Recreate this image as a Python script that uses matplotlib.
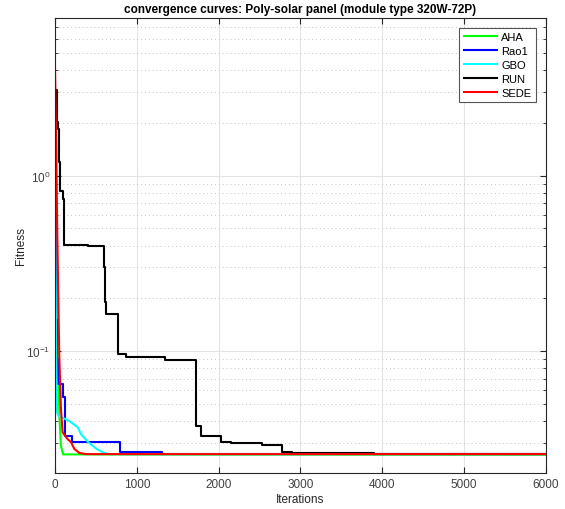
import matplotlib
matplotlib.use("Agg")
import matplotlib.pyplot as plt
from matplotlib.ticker import LogLocator, NullFormatter, MultipleLocator

plt.rcParams['font.family'] = ['Liberation Sans', 'DejaVu Sans']

# convergence data (iteration, best fitness)
aha_iter = [0, 10, 20, 40, 53, 73, 100, 6000]
aha_fit = [1.2, 0.6, 0.3, 0.09, 0.043, 0.029, 0.0259, 0.0258]

rao1_iter = [0, 8, 15, 25, 40, 95, 118, 208, 800, 1306, 6000]
rao1_fit = [1.5, 0.4, 0.15, 0.09, 0.0649, 0.055, 0.0331, 0.0306, 0.0266, 0.02615, 0.02615]

gbo_iter = [0, 5, 12, 20, 25, 40, 93, 175, 277, 318, 400, 502, 583, 665, 6000]
gbo_fit = [2.0, 0.5, 0.15, 0.06, 0.045, 0.043, 0.0419, 0.0401, 0.0370, 0.0338,
           0.0306, 0.0280, 0.0266, 0.0260, 0.0260]

run_iter = [0, 25, 40, 55, 62, 102, 114, 400, 600, 608, 615, 625, 768, 870, 1340,
            1720, 1780, 2034, 2157, 2524, 2770, 2892, 3900, 6000]
run_fit = [3.05, 2.02, 1.85, 1.2, 0.82, 0.737, 0.403, 0.398, 0.30, 0.23, 0.19, 0.163,
           0.0966, 0.0927, 0.0893, 0.0377, 0.0328, 0.0306, 0.0300, 0.0293, 0.0266,
           0.0263, 0.0260, 0.0260]

sede_iter = [0, 5, 15, 25, 35, 45, 53, 73, 93, 155, 196, 237, 298, 380, 6000]
sede_fit = [4.2, 3.0, 1.5, 0.6, 0.3, 0.15, 0.094, 0.047, 0.0346, 0.0316, 0.0304,
            0.0278, 0.0264, 0.0260, 0.0260]


def main():
    fig = plt.figure(figsize=(5.65, 5.10), dpi=100)
    ax = fig.add_axes([0.0973, 0.0706, 0.869, 0.8924])

    lw = 1.5
    ax.plot(aha_iter, aha_fit, color='#00ff00', lw=lw, label='AHA')
    ax.plot(rao1_iter, rao1_fit, color='#0000ff', lw=lw, drawstyle='steps-post', label='Rao1')
    ax.plot(gbo_iter, gbo_fit, color='#00ffff', lw=lw, label='GBO')
    ax.plot(run_iter, run_fit, color='black', lw=lw, drawstyle='steps-post', label='RUN')
    ax.plot(sede_iter, sede_fit, color='#ff0000', lw=lw, label='SEDE')

    ax.set_yscale('log')
    ax.set_xlim(0, 6000)
    ax.set_ylim(0.0203, 7.9)
    ax.xaxis.set_major_locator(MultipleLocator(1000))
    ax.yaxis.set_major_locator(LogLocator(base=10))
    ax.yaxis.set_minor_locator(LogLocator(base=10, subs=range(2, 10)))
    ax.yaxis.set_minor_formatter(NullFormatter())

    dark = '#262626'
    ax.grid(which='major', color='#e3e3e3', lw=0.8, ls='-')
    ax.yaxis.grid(which='minor', color='#c4c4c4', lw=0.7, ls=(0, (1, 3)))
    ax.set_axisbelow(True)
    ax.tick_params(which='both', direction='in', top=True, right=True,
                   colors=dark, labelsize=8.5)
    ax.tick_params(axis='both', labelcolor='#404040')
    ax.tick_params(which='major', length=4)
    ax.tick_params(which='minor', length=2.5)
    for s in ax.spines.values():
        s.set_color(dark)
        s.set_linewidth(0.8)

    ax.set_xlabel('Iterations', fontsize=8.5, color=dark, labelpad=2)
    ax.set_ylabel('Fitness', fontsize=8.5, color=dark, labelpad=-1)
    ax.set_title('convergence curves: Poly-solar panel (module type 320W-72P)',
                 fontsize=8.5, fontweight='bold', pad=4)

    leg = ax.legend(loc='upper right', fontsize=8, handlelength=3.0,
                    fancybox=False, framealpha=1, borderaxespad=0.9,
                    labelspacing=0.35, handletextpad=0.4, borderpad=0.4)
    leg.get_frame().set_edgecolor('#555555')
    leg.get_frame().set_linewidth(0.8)

    fig.savefig('out.png', dpi=100)


if __name__ == "__main__":
    main()
